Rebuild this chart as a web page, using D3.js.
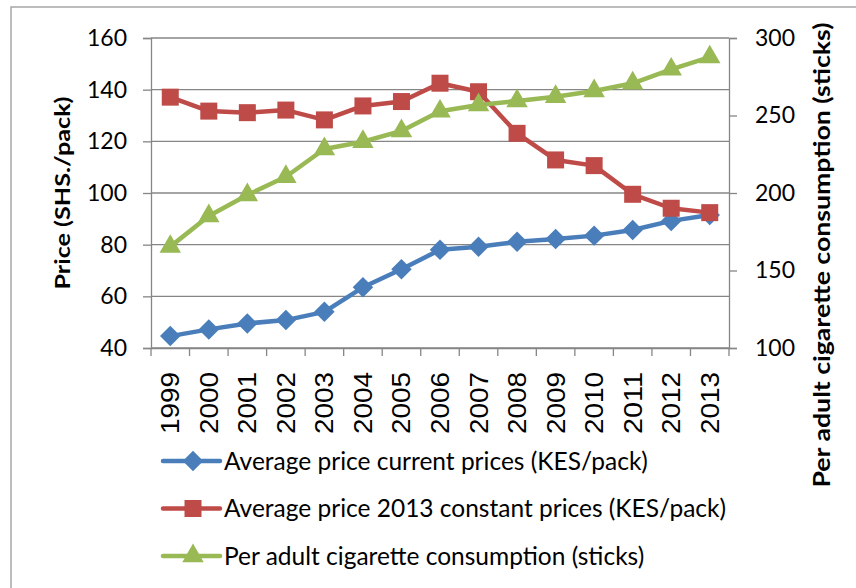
<!DOCTYPE html>
<html>
<head>
<meta charset="utf-8">
<script src="https://cdnjs.cloudflare.com/ajax/libs/d3/7.8.5/d3.min.js"></script>
<style>
  body { margin: 0; background: #fff; }
  svg { display: block; }
  .tick text { font-family: Lato, "Open Sans", sans-serif; fill: #000; }
</style>
</head>
<body>
<svg id="chart" viewBox="0 0 856 588" width="856" height="588"></svg>
<script>
const years = ["1999","2000","2001","2002","2003","2004","2005","2006","2007","2008","2009","2010","2011","2012","2013"];
const priceCurrent = [44.6, 47.2, 49.5, 50.8, 54.0, 63.5, 70.5, 78.0, 79.2, 81.1, 82.2, 83.5, 85.7, 89.2, 91.5];
const priceConstant = [137.1, 131.7, 131.1, 132.1, 128.3, 133.7, 135.4, 142.5, 139.2, 123.1, 112.8, 110.6, 99.5, 94.1, 92.4];
const consumption = [165.4, 185.2, 198.7, 210.5, 228.4, 233.1, 240.0, 252.7, 256.8, 259.4, 262.1, 265.8, 270.8, 279.8, 287.7];
const leftTicks = [40, 60, 80, 100, 120, 140, 160];
const rightTicks = [100, 150, 200, 250, 300];
const seriesNames = [
    "Average price current prices (KES/pack)",
    "Average price 2013 constant prices (KES/pack)",
    "Per adult cigarette consumption (sticks)"
];

const svg = d3.select("#chart");
const plot = { left: 151, right: 729, top: 38, bottom: 348 };
const gridColor = "#868686";

// outer frame (only top and left show in the reference)
svg.append("path")
    .attr("d", "M11,600 L11,7 L870,7")
    .attr("fill", "none")
    .attr("stroke", "#a6a6a6")
    .attr("stroke-width", 1.5);

const x = d3.scaleBand().domain(years).range([plot.left, plot.right]);
const yL = d3.scaleLinear().domain([40, 160]).range([plot.bottom, plot.top]);
const yR = d3.scaleLinear().domain([100, 300]).range([plot.bottom, plot.top]);

// gridlines
svg.append("g")
    .selectAll("line")
    .data(leftTicks)
    .enter()
    .append("line")
    .attr("x1", plot.left)
    .attr("x2", plot.right)
    .attr("y1", d => yL(d))
    .attr("y2", d => yL(d))
    .attr("stroke", gridColor)
    .attr("stroke-width", 1.3);

// left axis
const leftAxis = svg.append("g")
    .attr("transform", `translate(${plot.left},0)`)
    .call(d3.axisLeft(yL).tickValues(leftTicks).tickSize(8).tickPadding(16));
leftAxis.selectAll("text").style("font-size", "23px");

// right axis
const rightAxis = svg.append("g")
    .attr("transform", `translate(${plot.right},0)`)
    .call(d3.axisRight(yR).tickValues(rightTicks).tickSize(8).tickPadding(18));
rightAxis.selectAll("text").style("font-size", "23px");

// bottom axis
const bottomAxis = svg.append("g")
    .attr("transform", `translate(0,${plot.bottom})`)
    .call(d3.axisBottom(x).tickSize(0).tickPadding(0));
bottomAxis.selectAll("text")
    .attr("transform", "rotate(-90)")
    .attr("text-anchor", "end")
    .attr("x", -24)
    .attr("y", 0)
    .attr("dy", "0.36em")
    .attr("textLength", 62)
    .attr("lengthAdjust", "spacingAndGlyphs")
    .style("font-family", "'Liberation Sans', Arial, sans-serif")
    .style("font-size", "25px");
// category boundary ticks
svg.append("g")
    .selectAll("line")
    .data(d3.range(years.length + 1))
    .enter()
    .append("line")
    .attr("x1", i => plot.left + i * x.step())
    .attr("x2", i => plot.left + i * x.step())
    .attr("y1", plot.bottom)
    .attr("y2", plot.bottom + 8)
    .attr("stroke", gridColor)
    .attr("stroke-width", 1.3);

[leftAxis, rightAxis, bottomAxis].forEach(a => {
    a.select(".domain").attr("stroke", gridColor).attr("stroke-width", 1.3);
    a.selectAll(".tick line").attr("stroke", gridColor).attr("stroke-width", 1.3);
});

// axis titles
svg.append("text")
    .attr("transform", `translate(70,${(plot.top + plot.bottom) / 2}) rotate(-90)`)
    .attr("text-anchor", "middle")
    .attr("textLength", 193)
    .attr("lengthAdjust", "spacingAndGlyphs")
    .style("font-family", "Lato, sans-serif")
    .style("font-weight", "bold")
    .style("font-size", "21px")
    .text("Price (SHS./pack)");

svg.append("text")
    .attr("transform", `translate(830,255) rotate(-90)`)
    .attr("text-anchor", "middle")
    .attr("textLength", 465)
    .attr("lengthAdjust", "spacingAndGlyphs")
    .style("font-family", "Lato, sans-serif")
    .style("font-weight", "bold")
    .style("font-size", "22px")
    .text("Per adult cigarette consumption (sticks)");

// square rotated 45deg, like the spreadsheet diamond marker
const diamond = {
    draw(ctx, size) {
        const r = Math.sqrt(size / 2);
        ctx.moveTo(0, -r);
        ctx.lineTo(r, 0);
        ctx.lineTo(0, r);
        ctx.lineTo(-r, 0);
        ctx.closePath();
    }
};

const cx = d => x(d) + x.bandwidth() / 2;
const series = [
    { name: seriesNames[0], values: priceCurrent, scale: yL, color: "#4a7ebb", shape: diamond, size: 210 },
    { name: seriesNames[1], values: priceConstant, scale: yL, color: "#be4b48", shape: d3.symbolSquare, size: 289 },
    { name: seriesNames[2], values: consumption, scale: yR, color: "#98b954", shape: d3.symbolTriangle, size: 200 }
];

series.forEach(s => {
    const line = d3.line()
        .x((d, i) => cx(years[i]))
        .y(d => s.scale(d));
    svg.append("path")
        .datum(s.values)
        .attr("d", line)
        .attr("fill", "none")
        .attr("stroke", s.color)
        .attr("stroke-width", 4.5)
        .attr("stroke-linejoin", "round");
    svg.append("g")
        .selectAll("path")
        .data(s.values)
        .enter()
        .append("path")
        .attr("transform", (d, i) => `translate(${cx(years[i])},${s.scale(d)})`)
        .attr("d", d3.symbol().type(s.shape).size(s.size))
        .attr("fill", s.color);
});

// legend
const legend = svg.append("g")
    .selectAll("g")
    .data(series)
    .enter()
    .append("g")
    .attr("transform", (d, i) => `translate(163,${461 + i * 47.5})`);
legend.append("line")
    .attr("x1", 0)
    .attr("x2", 57)
    .attr("stroke", d => d.color)
    .attr("stroke-width", 4.5)
    .attr("stroke-linecap", "round");
legend.append("path")
    .attr("transform", "translate(30,0)")
    .attr("d", d => d3.symbol().type(d.shape).size(d.size)())
    .attr("fill", d => d.color);
legend.append("text")
    .attr("x", 61)
    .attr("dy", "0.35em")
    .style("font-family", "Lato, sans-serif")
    .style("font-size", "24.5px")
    .text(d => d.name);
</script>
</body>
</html>
